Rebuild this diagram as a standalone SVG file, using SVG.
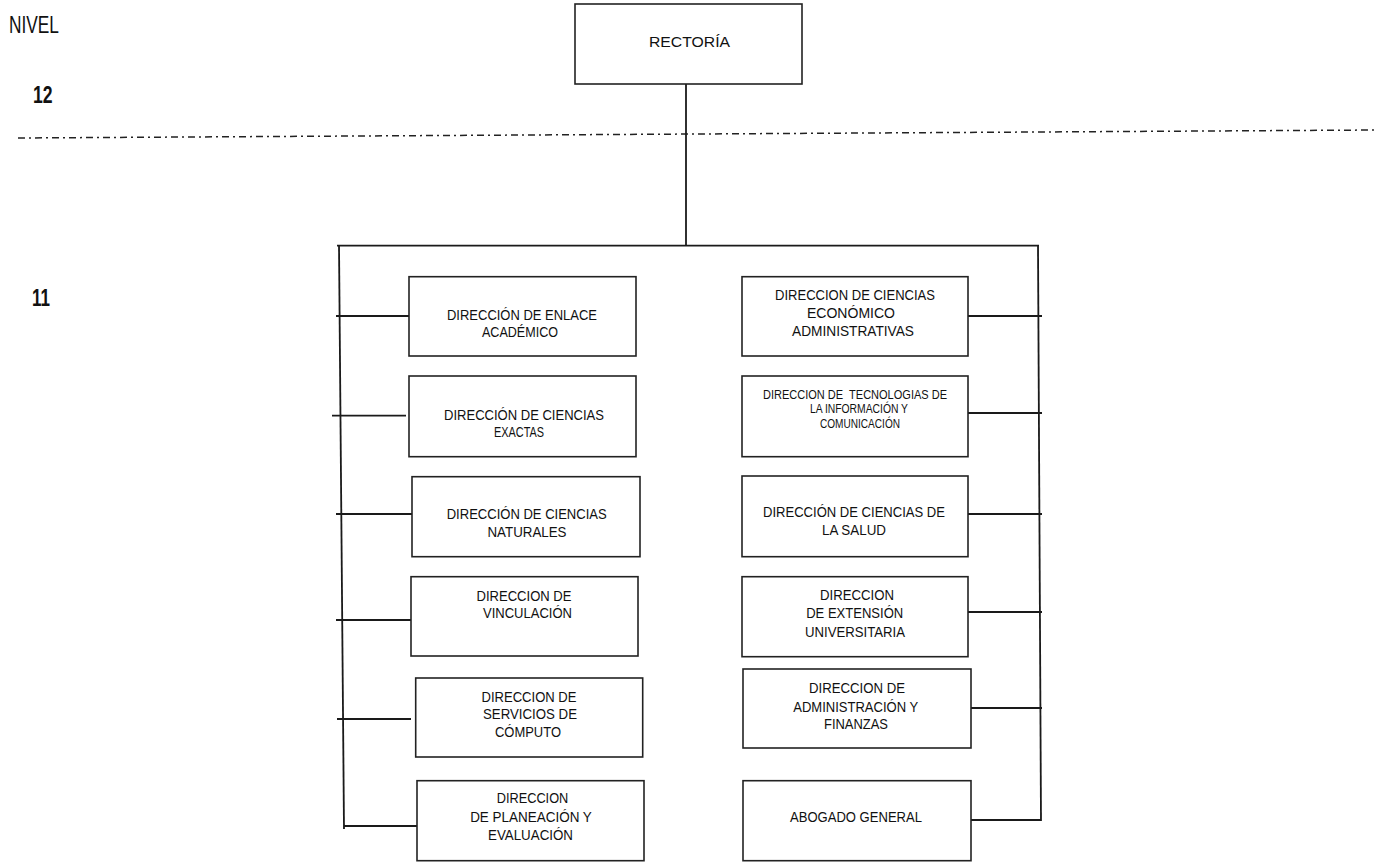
<svg xmlns="http://www.w3.org/2000/svg" width="1389" height="862" viewBox="0 0 1389 862">
<style>
.box{fill:#fff;stroke:#222;stroke-width:1.6}
.ln{stroke:#1a1a1a;stroke-width:1.8;fill:none}
.t{font-family:"Liberation Sans",Arial,sans-serif;font-size:15.5px;fill:#111;text-anchor:middle}
.s{font-size:12.5px}
.lv{font-family:"Liberation Sans",Arial,sans-serif;fill:#111}
</style>
<rect width="1389" height="862" fill="#fff"/>
<g id="levels">
<text class="lv" x="9" y="33" font-size="24" textLength="50" lengthAdjust="spacingAndGlyphs">NIVEL</text>
<text class="lv" x="33" y="103" font-size="23" font-weight="bold" textLength="19.6" lengthAdjust="spacingAndGlyphs">12</text>
<text class="lv" x="32" y="306" font-size="23" font-weight="bold" textLength="18" lengthAdjust="spacingAndGlyphs">11</text>
<line x1="18" y1="138" x2="1378" y2="130" stroke="#222" stroke-width="1.5" stroke-dasharray="7 4 2 4"/>
</g>
<g id="connectors">
<line class="ln" x1="686" y1="84" x2="686" y2="245.7"/>
<line class="ln" x1="337" y1="245.7" x2="1039" y2="245.7"/>
<line class="ln" x1="339" y1="245" x2="344" y2="829"/>
<line class="ln" x1="1038" y1="245" x2="1041" y2="821"/>
<line class="ln" x1="336" y1="316" x2="409" y2="316"/>
<line class="ln" x1="332" y1="415.7" x2="406" y2="415.7"/>
<line class="ln" x1="336" y1="514" x2="412" y2="514"/>
<line class="ln" x1="336" y1="620" x2="411" y2="620"/>
<line class="ln" x1="337" y1="719" x2="411" y2="719"/>
<line class="ln" x1="344" y1="826" x2="417" y2="826"/>
<line class="ln" x1="968" y1="316" x2="1042" y2="316"/>
<line class="ln" x1="968" y1="413" x2="1042" y2="413"/>
<line class="ln" x1="968" y1="514" x2="1042" y2="514"/>
<line class="ln" x1="968" y1="612" x2="1042" y2="612"/>
<line class="ln" x1="968" y1="708" x2="1042" y2="708"/>
<line class="ln" x1="968" y1="820" x2="1041" y2="820"/>
</g>
<g id="rectoria">
<rect class="box" x="575" y="4" width="227" height="80"/>
<text class="t" x="689.5" y="46.7" font-size="18.5" textLength="81" lengthAdjust="spacingAndGlyphs">RECTORÍA</text>
</g>
<g id="enlace">
<rect class="box" x="409" y="276.7" width="227" height="79.3"/>
<text class="t" x="522" y="319.6" textLength="150" lengthAdjust="spacingAndGlyphs">DIRECCIÓN DE ENLACE</text>
<text class="t" x="520" y="337.1" textLength="76" lengthAdjust="spacingAndGlyphs">ACADÉMICO</text>
</g>
<g id="exactas">
<rect class="box" x="409" y="376" width="227" height="80.7"/>
<text class="t" x="524" y="419.8" textLength="160" lengthAdjust="spacingAndGlyphs">DIRECCIÓN DE CIENCIAS</text>
<text class="t" x="519" y="437.3" textLength="50" lengthAdjust="spacingAndGlyphs">EXACTAS</text>
</g>
<g id="naturales">
<rect class="box" x="412" y="476.7" width="228" height="80"/>
<text class="t" x="526.7" y="519.3" textLength="160" lengthAdjust="spacingAndGlyphs">DIRECCIÓN DE CIENCIAS</text>
<text class="t" x="527" y="536.8" textLength="79" lengthAdjust="spacingAndGlyphs">NATURALES</text>
</g>
<g id="vinculacion">
<rect class="box" x="411" y="576.7" width="227" height="79.3"/>
<text class="t" x="524" y="600.6" textLength="95" lengthAdjust="spacingAndGlyphs">DIRECCION DE</text>
<text class="t" x="527.5" y="618.1" textLength="89" lengthAdjust="spacingAndGlyphs">VINCULACIÓN</text>
</g>
<g id="computo">
<rect class="box" x="415.7" y="678" width="227" height="79"/>
<text class="t" x="529" y="701.5" textLength="95" lengthAdjust="spacingAndGlyphs">DIRECCION DE</text>
<text class="t" x="530" y="719.2" textLength="94" lengthAdjust="spacingAndGlyphs">SERVICIOS DE</text>
<text class="t" x="528" y="736.7" textLength="66" lengthAdjust="spacingAndGlyphs">CÓMPUTO</text>
</g>
<g id="planeacion">
<rect class="box" x="417" y="780.7" width="227" height="80"/>
<text class="t" x="532.5" y="803" textLength="71.6" lengthAdjust="spacingAndGlyphs">DIRECCION</text>
<text class="t" x="531" y="821.7" textLength="121.7" lengthAdjust="spacingAndGlyphs">DE PLANEACIÓN Y</text>
<text class="t" x="530.5" y="840" textLength="85" lengthAdjust="spacingAndGlyphs">EVALUACIÓN</text>
</g>
<g id="economico">
<rect class="box" x="742" y="276.7" width="226" height="79.3"/>
<text class="t" x="855" y="300" textLength="160" lengthAdjust="spacingAndGlyphs">DIRECCION DE CIENCIAS</text>
<text class="t" x="851" y="317.5" textLength="88" lengthAdjust="spacingAndGlyphs">ECONÓMICO</text>
<text class="t" x="853" y="336" textLength="122" lengthAdjust="spacingAndGlyphs">ADMINISTRATIVAS</text>
</g>
<g id="tic">
<rect class="box" x="742" y="376" width="226" height="80.7"/>
<text class="t s" x="855" y="398.5" xml:space="preserve" textLength="184" lengthAdjust="spacingAndGlyphs">DIRECCION DE  TECNOLOGIAS DE</text>
<text class="t s" x="859" y="413" textLength="98" lengthAdjust="spacingAndGlyphs">LA INFORMACIÓN Y</text>
<text class="t s" x="860" y="427.5" textLength="80" lengthAdjust="spacingAndGlyphs">COMUNICACIÓN</text>
</g>
<g id="salud">
<rect class="box" x="742" y="476" width="226" height="80.7"/>
<text class="t" x="854" y="517.3" textLength="182" lengthAdjust="spacingAndGlyphs">DIRECCIÓN DE CIENCIAS DE</text>
<text class="t" x="854" y="535" textLength="64" lengthAdjust="spacingAndGlyphs">LA SALUD</text>
</g>
<g id="extension">
<rect class="box" x="742" y="576.7" width="226" height="80"/>
<text class="t" x="857" y="600" textLength="74" lengthAdjust="spacingAndGlyphs">DIRECCION</text>
<text class="t" x="854.7" y="617.5" textLength="97" lengthAdjust="spacingAndGlyphs">DE EXTENSIÓN</text>
<text class="t" x="855" y="636.7" textLength="100" lengthAdjust="spacingAndGlyphs">UNIVERSITARIA</text>
</g>
<g id="finanzas">
<rect class="box" x="743" y="669" width="228" height="79"/>
<text class="t" x="857" y="693.3" textLength="96" lengthAdjust="spacingAndGlyphs">DIRECCION DE</text>
<text class="t" x="855.7" y="711.7" textLength="125" lengthAdjust="spacingAndGlyphs">ADMINISTRACIÓN Y</text>
<text class="t" x="856" y="729.3" textLength="64" lengthAdjust="spacingAndGlyphs">FINANZAS</text>
</g>
<g id="abogado">
<rect class="box" x="743" y="780.7" width="228" height="80"/>
<text class="t" x="856" y="822.3" font-size="17" textLength="132" lengthAdjust="spacingAndGlyphs">ABOGADO GENERAL</text>
</g>
</svg>
